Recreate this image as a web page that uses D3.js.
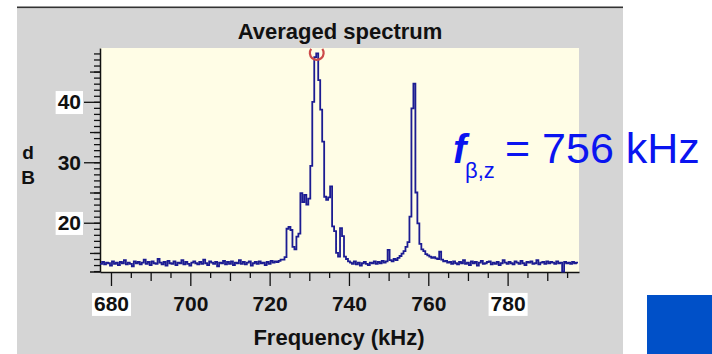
<!DOCTYPE html>
<html>
<head>
<meta charset="utf-8">
<script src="https://cdn.jsdelivr.net/npm/d3@7"></script>
<style>
  body { margin: 0; background: #fff; }
  svg { display: block; font-family: "Liberation Sans", Arial, sans-serif; }
</style>
</head>
<body>
<svg id="chart" width="712" height="354"></svg>
<script>
// spectrum bins: start frequency + step, one dB value per bin
const binStart = 677.25;
const binStep = 0.5;
const noiseLow = [
  13.2, 13.5, 13.1, 13.4, 13.3, 12.9, 13.6, 13.2, 13.4, 13.0,
  13.5, 13.3, 13.8, 13.1, 13.4, 13.2, 12.8, 13.6, 13.3, 13.5,
  13.1, 13.4, 13.9, 13.2, 13.5, 13.0, 13.6, 13.3, 13.2, 14.0,
  13.4, 13.1, 13.5, 12.9, 13.7, 13.3, 13.2, 13.6, 13.0, 13.4,
  13.3, 13.8, 13.1, 13.5, 13.2, 12.9, 13.4, 13.6, 13.3, 13.1,
  13.5, 13.2, 13.9, 13.3, 13.0, 13.6, 13.4, 13.2, 13.5, 12.8,
  13.4, 13.3, 13.7, 13.1, 13.5, 13.2, 13.6, 13.0, 13.4, 13.3,
  13.8, 13.2, 13.5, 13.1, 13.4, 13.6, 12.9, 13.3, 13.5, 13.2,
  13.6, 13.3, 13.4, 13.0, 13.5, 13.2, 13.7, 13.4, 13.6, 13.5,
  13.7, 13.9
];
const peakOne = [
  13.9, 14.3, 19.0, 19.3, 18.8, 16.0, 15.6, 17.7, 18.2, 24.9,
  23.4, 24.6, 23.0, 24.0, 29.4, 40.0, 47.4, 48.0, 43.6, 38.7,
  33.4, 24.3, 23.8, 24.2, 26.0, 19.4, 18.6, 15.0, 14.4, 19.1,
  17.8, 14.4, 14.0, 13.6
];
const noiseMid = [
  13.4, 13.2, 13.6, 13.1, 13.4, 12.9, 13.3, 13.5, 13.2, 13.0,
  13.4, 13.3, 13.6, 13.2, 13.5, 13.3, 13.7, 13.4, 13.6, 15.5,
  13.8, 13.6, 14.0, 13.8, 14.2, 14.5, 14.9
];
const peakTwo = [
  15.3, 16.0, 16.8, 21.0, 38.9, 43.0, 25.0, 19.9, 16.5, 15.6,
  15.3, 14.8, 14.6
];
const noiseHigh = [
  14.4, 14.2, 14.3, 14.1, 14.0, 15.2, 13.9, 13.6, 13.7, 13.4,
  13.5, 13.2, 13.6, 13.3, 13.1, 13.5, 13.3, 13.8, 13.2, 13.4,
  13.0, 13.6, 13.3, 13.5, 12.9, 13.4, 13.7, 13.2, 13.3, 13.5,
  13.6, 13.1, 13.4, 13.2, 13.5, 13.0, 13.3, 13.8, 13.4, 13.2,
  13.5, 13.3, 13.1, 13.6, 13.4, 13.2, 13.7, 13.3, 13.0, 13.5,
  13.4, 13.6, 13.2, 13.3, 13.8, 13.1, 13.4, 13.5, 13.2, 13.6,
  13.3, 13.5, 13.4, 13.2, 13.6, 13.3, 13.4, 11.9, 13.5, 13.3,
  13.4, 13.2, 13.5, 13.3, 13.4
];
const xMajorTicks = [680, 700, 720, 740, 760, 780];
const yMajorTicks = [20, 30, 40];
const boxedLabels = ["680", "780", "20", "40"];
const peakFreq = 731.75;
const peakDb = 48.0;

const dbValues = [].concat(noiseLow, peakOne, noiseMid, peakTwo, noiseHigh);
const spectrum = dbValues.map((v, i) => ({f: binStart + i * binStep, db: v}));
// last step needs an end point
spectrum.push({f: binStart + dbValues.length * binStep, db: dbValues[dbValues.length - 1]});

const svg = d3.select("#chart");

// panel
svg.append("rect").attr("x", 17).attr("y", 8).attr("width", 606).attr("height", 346).attr("fill", "#d5d5d5");
svg.append("rect").attr("x", 17).attr("y", 6.5).attr("width", 606).attr("height", 1.6).attr("fill", "#333");

const x = d3.scaleLinear().domain([677.23, 798.0]).range([100, 579]);
const y = d3.scaleLinear().domain([11.85, 48.9]).range([272, 48]);

svg.append("rect")
  .attr("x", x.range()[0]).attr("y", y.range()[1])
  .attr("width", x.range()[1] - x.range()[0])
  .attr("height", y.range()[0] - y.range()[1])
  .attr("fill", "#fffde6");

const tickFont = g => g.selectAll("text")
  .attr("font-size", 21).attr("font-weight", "bold").attr("fill", "#111");

// y axis, three tick levels
svg.append("g").attr("transform", `translate(${x.range()[0]},0)`)
  .call(d3.axisLeft(y).tickValues(d3.range(12, 49)).tickSize(6).tickSizeOuter(0).tickFormat(""));
svg.append("g").attr("transform", `translate(${x.range()[0]},0)`)
  .call(d3.axisLeft(y).tickValues([15, 25, 35, 45]).tickSize(10).tickFormat(""))
  .select(".domain").remove();
const yMajor = svg.append("g").attr("transform", `translate(${x.range()[0]},0)`)
  .call(d3.axisLeft(y).tickValues(yMajorTicks).tickSize(16).tickPadding(3))
  .call(tickFont);
yMajor.select(".domain").remove();

// x axis
svg.append("g").attr("transform", `translate(0,${y.range()[0]})`)
  .call(d3.axisBottom(x).tickValues(d3.range(685, 800, 10)).tickSize(6).tickSizeOuter(0).tickFormat(""));
svg.append("g").attr("transform", `translate(0,${y.range()[0]})`)
  .call(d3.axisBottom(x).tickValues([690, 710, 730, 750, 770, 790]).tickSize(9).tickFormat(""))
  .select(".domain").remove();
const xMajor = svg.append("g").attr("transform", `translate(0,${y.range()[0]})`)
  .call(d3.axisBottom(x).tickValues(xMajorTicks).tickSize(14).tickPadding(10))
  .call(tickFont);
xMajor.select(".domain").remove();
svg.selectAll(".domain").attr("stroke", "#111").attr("stroke-width", 1.5);
svg.selectAll(".tick line").attr("stroke", "#111").attr("stroke-width", 1.3);
// extend bottom axis line to the left like the original
svg.append("line").attr("x1", 90).attr("x2", x.range()[0])
  .attr("y1", y.range()[0]).attr("y2", y.range()[0]).attr("stroke", "#111").attr("stroke-width", 1.5);

// white boxes behind some tick labels
svg.selectAll(".tick text").filter(function() { return boxedLabels.includes(this.textContent); })
  .each(function() {
    const b = this.getBBox();
    d3.select(this.parentNode).insert("rect", "text")
      .attr("x", b.x - 2).attr("y", b.y + 1).attr("width", b.width + 4).attr("height", b.height)
      .attr("fill", "#fff");
  });

// spectrum line
const line = d3.line().x(d => x(d.f)).y(d => y(d.db)).curve(d3.curveStepAfter);
svg.append("path").datum(spectrum)
  .attr("d", line)
  .attr("fill", "none")
  .attr("stroke", "#1c1c92")
  .attr("stroke-width", 1.8);

// peak marker
svg.append("path")
  .attr("transform", `translate(${x(peakFreq) + 0.5},${y(peakDb) - 0.5})`)
  .attr("d", d3.arc().innerRadius(5.8).outerRadius(8).startAngle(Math.PI * 0.3).endAngle(Math.PI * 1.7)())
  .attr("fill", "#cc4a4a");

// titles
svg.append("text").attr("x", 340).attr("y", 39).attr("text-anchor", "middle")
  .attr("font-size", 22).attr("font-weight", "bold").attr("fill", "#111").text("Averaged spectrum");
svg.append("text").attr("x", 339).attr("y", 345).attr("text-anchor", "middle")
  .attr("font-size", 22).attr("font-weight", "bold").attr("fill", "#111").text("Frequency (kHz)");
svg.append("text").attr("x", 28).attr("y", 159).attr("text-anchor", "middle")
  .attr("font-size", 19).attr("font-weight", "bold").attr("fill", "#111").text("d");
svg.append("text").attr("x", 28).attr("y", 184).attr("text-anchor", "middle")
  .attr("font-size", 19).attr("font-weight", "bold").attr("fill", "#111").text("B");

// annotation
const blue = "#0a14f0";
svg.append("text").attr("x", 453).attr("y", 163)
  .attr("font-size", 40).attr("font-weight", "bold").attr("font-style", "italic").attr("fill", blue).text("f");
svg.append("text").attr("x", 465).attr("y", 178)
  .attr("font-size", 22).attr("fill", blue).text("β,z");
svg.append("text").attr("x", 505).attr("y", 163)
  .attr("font-size", 43).attr("fill", blue).text("= 756 kHz");

svg.append("rect").attr("x", 647).attr("y", 295).attr("width", 65).attr("height", 59).attr("fill", "#0050c8");
</script>
</body>
</html>
